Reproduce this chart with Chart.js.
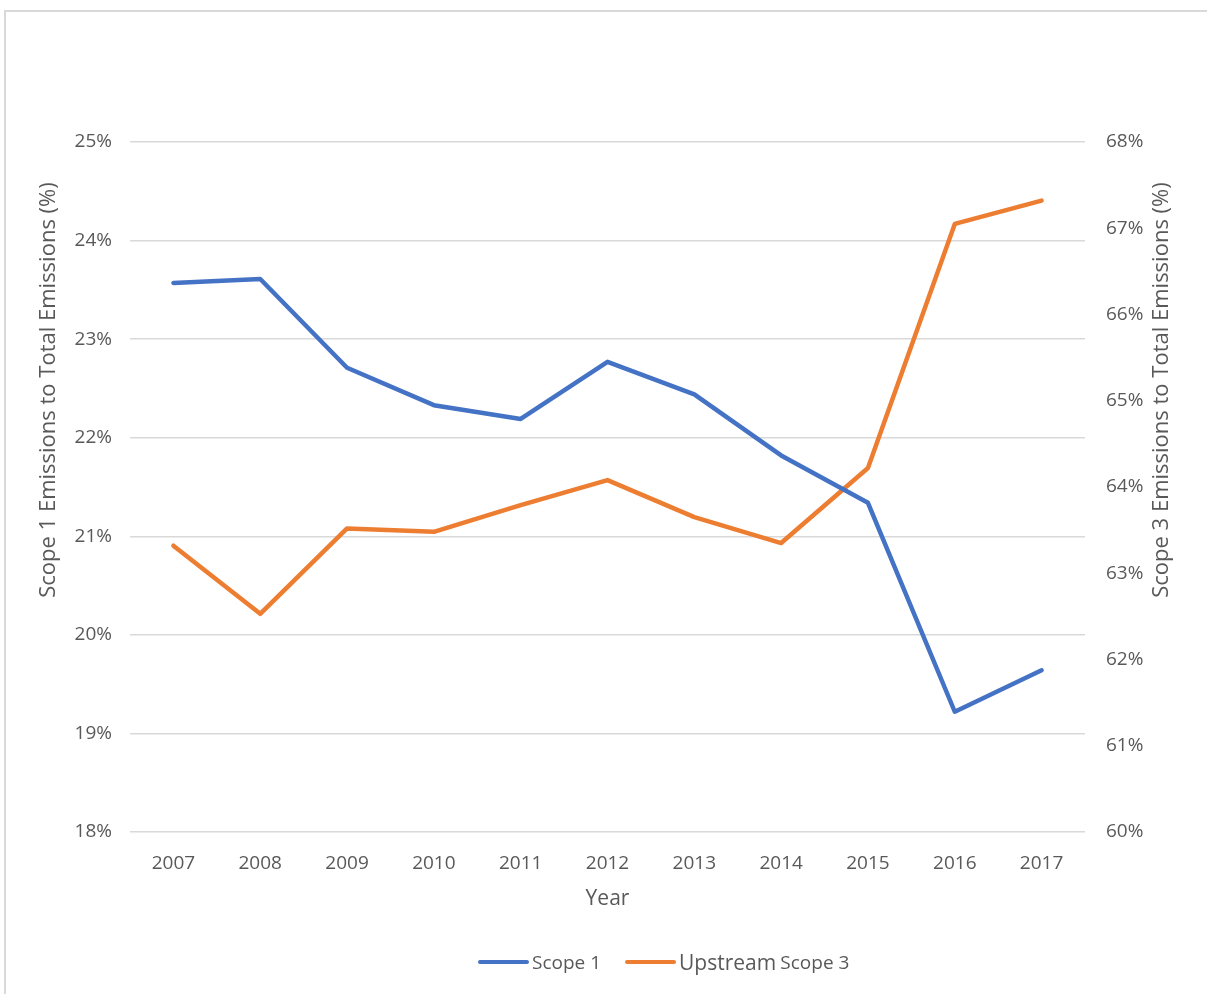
<!DOCTYPE html>
<html>
<head>
<meta charset="utf-8">
<script src="https://cdn.jsdelivr.net/npm/chart.js@4"></script>
<style>
  html, body { margin: 0; padding: 0; background: #fff; overflow: hidden; }
  body { width: 1207px; height: 994px; position: relative; font-family: "Open Sans", sans-serif; }
  .frame { position: absolute; left: 4px; top: 10px; width: 1220px; height: 1000px; border: 2px solid #d9d9d9; box-sizing: border-box; }
  .wrap { position: absolute; left: 0; top: 0; width: 1207px; height: 994px; }
  .legend { position: absolute; left: 478px; top: 948px; display: flex; align-items: center; color: #595959; white-space: nowrap; }
  .legend .item { display: flex; align-items: center; margin-right: 24px; }
  .legend .swatch { width: 51px; height: 4px; border-radius: 2px; margin-right: 3px; }
  .legend .small { font-size: 19px; }
  .legend .big { font-size: 21px; }
</style>
</head>
<body>
<div class="frame"></div>
<div class="wrap"><canvas id="emissionsChart"></canvas></div>
<div class="legend" id="legend"></div>
<script>
const years = ["2007", "2008", "2009", "2010", "2011", "2012", "2013", "2014", "2015", "2016", "2017"];
const scope1 = [23.57, 23.61, 22.71, 22.33, 22.19, 22.77, 22.44, 21.82, 21.34, 19.22, 19.64];
const upstreamScope3 = [63.32, 62.53, 63.52, 63.48, 63.79, 64.08, 63.65, 63.35, 64.22, 67.05, 67.32];
const leftTicks = [18, 19, 20, 21, 22, 23, 24, 25];
const rightTicks = [60, 61, 62, 63, 64, 65, 66, 67, 68];
const leftTitle = "Scope 1 Emissions to Total Emissions (%)";
const rightTitle = "Scope 3 Emissions to Total Emissions (%)";

const blue = "#4472c4";
const orange = "#ed7d31";
const textColor = "#595959";

// both y titles read bottom-to-top and sit a bit above the axis middle, as in the original
const sideTitles = {
  id: "sideTitles",
  afterDraw(chart) {
    const c = chart.ctx;
    const mid = 390;
    c.save();
    c.fillStyle = textColor;
    c.font = '22px "Open Sans"';
    c.textAlign = "center";
    c.textBaseline = "middle";
    [[49, leftTitle], [1162, rightTitle]].forEach(([x, t]) => {
      c.save();
      c.translate(x, mid);
      c.rotate(-Math.PI / 2);
      c.fillText(t, 0, 0);
      c.restore();
    });
    c.restore();
  }
};

const ctx = document.getElementById("emissionsChart");
new Chart(ctx, {
  type: "line",
  data: {
    labels: years,
    datasets: [{
      label: "Scope 1",
      data: scope1,
      yAxisID: "y",
      borderColor: blue,
      backgroundColor: blue,
      borderWidth: 4.5,
      pointRadius: 0,
      borderCapStyle: "round",
      borderJoinStyle: "round",
      tension: 0
    }, {
      label: "Upstream Scope 3",
      data: upstreamScope3,
      yAxisID: "y1",
      borderColor: orange,
      backgroundColor: orange,
      borderWidth: 4.5,
      pointRadius: 0,
      borderCapStyle: "round",
      borderJoinStyle: "round",
      tension: 0
    }]
  },
  options: {
    responsive: true,
    maintainAspectRatio: false,
    animation: false,
    layout: { padding: { top: 142, bottom: 72, left: 0, right: 0 } },
    plugins: {
      legend: { display: false },
      tooltip: { enabled: false }
    },
    scales: {
      x: {
        offset: true,
        grid: { display: false, drawTicks: false },
        border: { display: false },
        ticks: { color: textColor, font: { family: "Open Sans", size: 19 }, padding: 20 },
        title: { display: true, text: "Year", color: textColor, font: { family: "Open Sans", size: 21 }, padding: { top: 0, bottom: 10 } },
        afterFit: s => { s.height = 90; }
      },
      y: {
        position: "left",
        min: leftTicks[0],
        max: leftTicks[leftTicks.length - 1],
        afterBuildTicks: s => { s.ticks = leftTicks.map(v => ({ value: v })); },
        grid: { color: "#d9d9d9", lineWidth: 1.5, drawTicks: false },
        border: { display: false },
        ticks: { color: textColor, font: { family: "Open Sans", size: 19 }, padding: 18, callback: v => v + "%" },
        afterFit: s => { s.width = 130; }
      },
      y1: {
        position: "right",
        min: rightTicks[0],
        max: rightTicks[rightTicks.length - 1],
        afterBuildTicks: s => { s.ticks = rightTicks.map(v => ({ value: v })); },
        grid: { display: false, drawTicks: false },
        border: { display: false },
        ticks: { color: textColor, font: { family: "Open Sans", size: 19 }, padding: 21, callback: v => v + "%" },
        afterFit: s => { s.width = 122; }
      }
    }
  },
  plugins: [sideTitles]
});

// legend: "Upstream" is set larger than "Scope 3" in the original
const legend = document.getElementById("legend");
const legendItems = [
  { color: blue, html: '<span class="small">Scope 1</span>' },
  { color: orange, html: '<span class="big">Upstream</span>&nbsp;<span class="small">Scope 3</span>' }
];
legendItems.forEach(it => {
  const d = document.createElement("div");
  d.className = "item";
  d.innerHTML = '<span class="swatch" style="background:' + it.color + '"></span>' + it.html;
  legend.appendChild(d);
});
</script>
</body>
</html>
